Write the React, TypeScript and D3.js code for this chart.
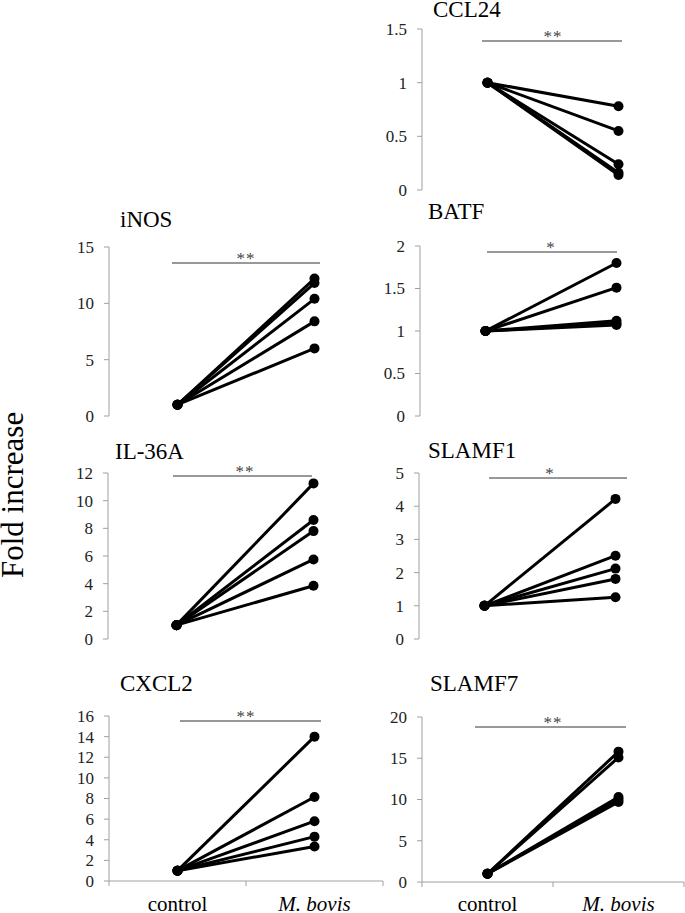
import React from "react";
import * as d3 from "d3";

// ---- data ----
const genes = ["CCL24", "iNOS", "BATF", "IL-36A", "SLAMF1", "CXCL2", "SLAMF7"];
const categories = ["control", "M. bovis"];
const controlValue = 1;
const ccl24 = [0.78, 0.55, 0.24, 0.16, 0.14];
const inos = [12.2, 11.8, 10.4, 8.4, 6.0];
const batf = [1.8, 1.51, 1.12, 1.09, 1.07];
const il36a = [11.25, 8.6, 7.8, 5.75, 3.85];
const slamf1 = [4.22, 2.51, 2.12, 1.81, 1.26];
const cxcl2 = [14.0, 8.15, 5.8, 4.3, 3.35];
const slamf7 = [15.8, 15.1, 10.3, 10.0, 9.7];
const yMaxes = [1.5, 15, 2, 12, 5, 16, 20];
const yTickSteps = [0.5, 5, 0.5, 2, 1, 2, 5];
const significance = ["**", "**", "*", "**", "*", "**", "**"];
const yAxisTitle = "Fold increase";

const seriesValues = [ccl24, inos, batf, il36a, slamf1, cxcl2, slamf7];

// ---- layout (pixel positions) ----
type Layout = {
  x0: number; w: number; top: number; bottom: number;
  titleX: number; titleY: number; sigY: number; sigX1: number; sigX2: number; xAxis: boolean;
};
const layouts: Layout[] = [
  { x0: 422, w: 262, top: 29, bottom: 190, titleX: 433, titleY: 17, sigY: 41, sigX1: 482, sigX2: 622, xAxis: false },
  { x0: 109, w: 274, top: 247, bottom: 416, titleX: 120, titleY: 227, sigY: 263, sigX1: 172, sigX2: 320, xAxis: false },
  { x0: 420, w: 262, top: 246, bottom: 416, titleX: 428, titleY: 219, sigY: 252, sigX1: 487, sigX2: 617, xAxis: false },
  { x0: 108, w: 274, top: 473, bottom: 639, titleX: 115, titleY: 459, sigY: 476, sigX1: 173, sigX2: 312, xAxis: false },
  { x0: 419, w: 262, top: 473, bottom: 639, titleX: 428, titleY: 458, sigY: 478, sigX1: 489, sigX2: 627, xAxis: false },
  { x0: 109, w: 274, top: 716, bottom: 881, titleX: 120, titleY: 691, sigY: 721, sigX1: 180, sigX2: 321, xAxis: true },
  { x0: 422, w: 262, top: 717, bottom: 882, titleX: 430, titleY: 691, sigY: 727, sigX1: 475, sigX2: 626, xAxis: true },
];

const FONT = "Liberation Serif";
const AXIS = "#a0a0a0";

function Panel({ idx }: { idx: number }) {
  const L = layouts[idx];
  const y = d3.scaleLinear().domain([0, yMaxes[idx]]).range([L.bottom, L.top]);
  const x = d3.scaleBand<string>().domain(categories).range([L.x0, L.x0 + L.w]);
  const cx = (c: string) => (x(c) as number) + x.bandwidth() / 2;
  const ticks = d3.range(0, yMaxes[idx] + 1e-9, yTickSteps[idx]);
  const fmt = d3.format("~g");
  const vals = seriesValues[idx];
  const midX = L.x0 + x.bandwidth();
  return (
    <g>
      <text x={L.titleX} y={L.titleY} fontSize={23} fontFamily={FONT} fill="#000">{genes[idx]}</text>
      <line x1={L.x0} x2={L.x0} y1={L.top} y2={L.bottom} stroke={AXIS} strokeWidth={1} />
      {ticks.map((t) => (
        <g key={t}>
          <line x1={L.x0 - 5} x2={L.x0} y1={y(t)} y2={y(t)} stroke={AXIS} strokeWidth={1} />
          <text x={L.x0 - 15} y={y(t)} dy="0.35em" textAnchor="end" fontSize={17} fontFamily={FONT} fill="#222">{fmt(t)}</text>
        </g>
      ))}
      {L.xAxis && (
        <g>
          <line x1={L.x0} x2={L.x0 + L.w} y1={L.bottom} y2={L.bottom} stroke={AXIS} strokeWidth={1} />
          {[L.x0, L.x0 + x.bandwidth(), L.x0 + L.w].map((tx, i) => (
            <line key={i} x1={tx} x2={tx} y1={L.bottom} y2={L.bottom + 5} stroke={AXIS} strokeWidth={1} />
          ))}
          {categories.map((c, i) => (
            <text key={c} x={cx(c)} y={911} textAnchor="middle" fontSize={21} fontFamily={FONT}
              fontStyle={i === 1 ? "italic" : "normal"} fill="#000">{c}</text>
          ))}
        </g>
      )}
      <line x1={L.sigX1} x2={L.sigX2} y1={L.sigY} y2={L.sigY} stroke="#333" strokeWidth={1} />
      <text x={midX} y={L.sigY + 1} textAnchor="middle" fontSize={17} fontFamily={FONT} fill="#444" letterSpacing={1}>{significance[idx]}</text>
      {vals.map((v, i) => (
        <line key={"l" + i} x1={cx(categories[0])} y1={y(controlValue)} x2={cx(categories[1])} y2={y(v)}
          stroke="#000" strokeWidth={3} />
      ))}
      {vals.map((v, i) => (
        <g key={"p" + i}>
          <circle cx={cx(categories[0])} cy={y(controlValue)} r={5} fill="#000" />
          <circle cx={cx(categories[1])} cy={y(v)} r={5} fill="#000" />
        </g>
      ))}
    </g>
  );
}

export default function App() {
  return (
    <svg width={685} height={913} style={{ position: "absolute", left: 0, top: 0, background: "#fff" }}>
      <rect width={685} height={913} fill="#fff" />
      <text transform="translate(23,578) rotate(-90)" fontSize={31} fontFamily={FONT} fill="#000">{yAxisTitle}</text>
      {genes.map((_, i) => (
        <Panel key={i} idx={i} />
      ))}
    </svg>
  );
}
